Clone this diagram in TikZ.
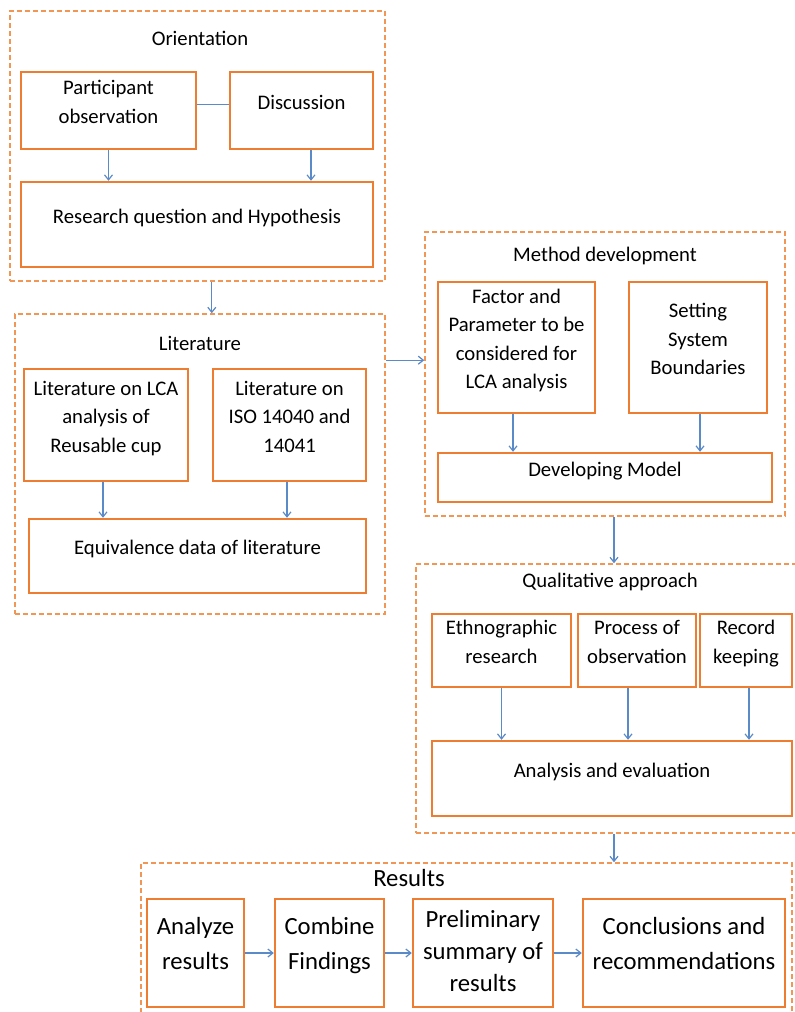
\documentclass[tikz,border=0pt]{standalone}
\usepackage{fontspec}
\setmainfont{Carlito}
\usepackage{xcolor}
\usepackage{tikz}
\usetikzlibrary{arrows.meta}
\definecolor{orbox}{RGB}{237,125,49}
\definecolor{orframe}{RGB}{241,150,84}
\definecolor{arrblue}{RGB}{91,138,200}

\begin{document}
\begin{tikzpicture}[x=1pt,y=-1pt, >={Straight Barb[length=5pt,width=8pt]},
  frame/.style={draw=orframe, line width=1.6pt, dash pattern=on 5pt off 3pt},
  box/.style={draw=orbox, line width=2.4pt, align=center, inner sep=2pt, text depth=17pt, font=\fontsize{20.7}{28.5}\selectfont},
  bigbox/.style={box, text depth=20pt, font=\fontsize{24.7}{35}\selectfont},
  head/.style={font=\fontsize{20.7}{24}\selectfont},
  arr/.style={->, draw=arrblue, line width=1.2pt}]
\useasboundingbox (0,0) rectangle (795,1012);
\clip (0,0) rectangle (795,1012);

\node[frame, minimum width=375pt, minimum height=270pt] (orient) at (197.5,146) {};
\node[frame, minimum width=370pt, minimum height=300pt] (lit) at (200,464) {};
\node[frame, minimum width=360pt, minimum height=284pt] (method) at (605,374) {};
\node[frame, minimum width=396pt, minimum height=269pt] (qual) at (614,698.5) {};
\node[frame, minimum width=651pt, minimum height=177pt] (res) at (466.5,951.5) {};

\node[head] (orienttitle) at (200,38) {Orientation};
\node[head] (littitle) at (200,343) {Literature};
\node[head] (methodtitle) at (605,256) {Method development};
\node[head] (qualtitle) at (610,582) {Qualitative approach};
\node[head, font=\fontsize{24.7}{28}\selectfont] (restitle) at (409,878) {Results};

\node[box, minimum width=175pt, minimum height=77pt] (part) at (108.5,110.5) {Participant\\observation};
\node[box, minimum width=143pt, minimum height=77pt] (disc) at (301.5,110.5) {Discussion};
\node[box, minimum width=352pt, minimum height=85pt] (rq) at (197,224.5) {Research question and Hypothesis};

\node[box, minimum width=164pt, minimum height=112pt] (litlca) at (106,425) {Literature on LCA\\analysis of\\Reusable cup};
\node[box, minimum width=153pt, minimum height=112pt] (iso) at (289.5,425) {Literature on\\ISO 14040 and\\14041};
\node[box, minimum width=337pt, minimum height=74pt] (equiv) at (197.5,556) {Equivalence data of literature};

\node[box, minimum width=157pt, minimum height=131pt] (factor) at (516.5,347.5) {Factor and\\Parameter to be\\considered for\\LCA analysis};
\node[box, minimum width=138pt, minimum height=131pt] (system) at (698,347.5) {Setting\\System\\Boundaries};
\node[box, minimum width=334pt, minimum height=49pt] (model) at (605,477.5) {Developing Model};

\node[box, minimum width=139pt, minimum height=73pt] (ethno) at (501.5,650.5) {Ethnographic\\research};
\node[box, minimum width=118pt, minimum height=73pt] (process) at (637,650.5) {Process of\\observation};
\node[box, minimum width=92pt, minimum height=73pt] (record) at (746,650.5) {Record\\keeping};
\node[box, minimum width=360pt, minimum height=75pt] (evaluation) at (612,778.5) {Analysis and evaluation};

\node[bigbox, minimum width=97pt, minimum height=108pt] (analyze) at (195.5,953) {Analyze\\results};
\node[bigbox, minimum width=109pt, minimum height=108pt] (combine) at (329.5,953) {Combine\\Findings};
\node[bigbox, minimum width=140pt, minimum height=108pt, text depth=5pt, font=\fontsize{24.7}{32}\selectfont] (prelim) at (483,953) {Preliminary\\summary of\\results};
\node[bigbox, minimum width=202pt, minimum height=108pt] (concl) at (684,953) {Conclusions and\\recommendations};

\draw[draw=arrblue, line width=1.2pt] ([yshift=6pt]part.east) -- ([yshift=6pt]disc.west);
\draw[arr] (part.south) -- (part.south |- rq.north);
\draw[arr] ([xshift=9.5pt]disc.south) -- ([xshift=9.5pt]disc.south |- rq.north);
\draw[arr] (orient.south -| iso.west) -- (lit.north -| iso.west);

\draw[arr] ([xshift=-3pt]litlca.south) -- ([xshift=-3pt]litlca.south |- equiv.north);
\draw[arr] ([xshift=-2.5pt]iso.south) -- ([xshift=-2.5pt]iso.south |- equiv.north);
\draw[arr] ([yshift=-47pt]lit.north east) -- ([yshift=-47pt]lit.north east -| method.west);

\draw[arr] ([xshift=-3.5pt]factor.south) -- ([xshift=-3.5pt]factor.south |- model.north);
\draw[arr] ([xshift=2pt]system.south) -- ([xshift=2pt]system.south |- model.north);
\draw[arr] (method.south -| qual.north) -- (qual.north);

\draw[arr] (ethno.south) -- (ethno.south |- evaluation.north);
\draw[arr] ([xshift=-9pt]process.south) -- ([xshift=-9pt]process.south |- evaluation.north);
\draw[arr] ([xshift=3pt]record.south) -- ([xshift=3pt]record.south |- evaluation.north);
\draw[arr] (qual.south) -- (qual.south |- res.north);

\draw[arr] (analyze.east) -- (combine.west);
\draw[arr] (combine.east) -- (prelim.west);
\draw[arr] (prelim.east) -- (concl.west);
\end{tikzpicture}
\end{document}
